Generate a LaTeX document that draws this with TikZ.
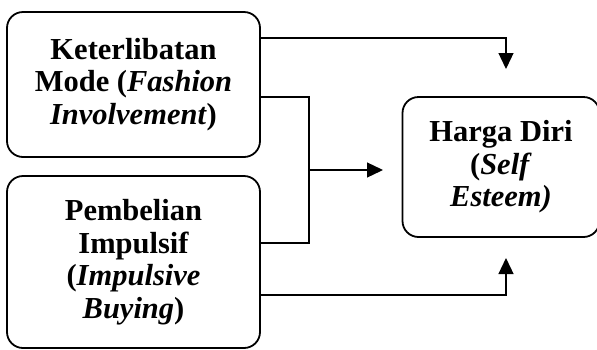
\documentclass[tikz,border=0pt]{standalone}
\usepackage{fontspec}
\setmainfont{Liberation Serif}
\usetikzlibrary{arrows.meta}
\begin{document}
\begin{tikzpicture}[x=1pt,y=-1pt,
  varbox/.style={draw, line width=1.8pt, rounded corners=16pt, align=center,
    font=\fontsize{30.5}{32.5}\selectfont\bfseries, inner sep=0pt},
  conn/.style={line width=1.3pt},
  arr/.style={conn, -{Triangle[length=16pt,width=15pt]}}]
\useasboundingbox (0,0) rectangle (597,349);
\node[varbox, minimum width=253pt, minimum height=145pt] (b1) at (133.5,84.5)
  {Keterlibatan\\Mode (\textit{Fashion}\\\textit{Involvement})};
\node[varbox, minimum width=253pt, minimum height=172pt] (b2) at (133.5,262)
  {Pembelian\\Impulsif\\(\textit{Impulsive}\\\textit{Buying})};
\node[varbox, minimum width=197pt, minimum height=140pt] (b3) at (501,167)
  {Harga Diri\\(\textit{Self}\\\textit{Esteem)}};
\coordinate (t1) at (506,69);
\coordinate (t2) at (383,170);
\coordinate (t3) at (506,258);
\coordinate (j) at (309,170);
\draw[arr] (b1.east |- 0,38) -| (t1);
\draw[conn] (b1.east |- 0,97) -| (309,243) -- (b2.east |- 0,243);
\draw[arr] (j) -- (t2);
\draw[arr] (b2.east |- 0,295) -| (t3);
\end{tikzpicture}
\end{document}
